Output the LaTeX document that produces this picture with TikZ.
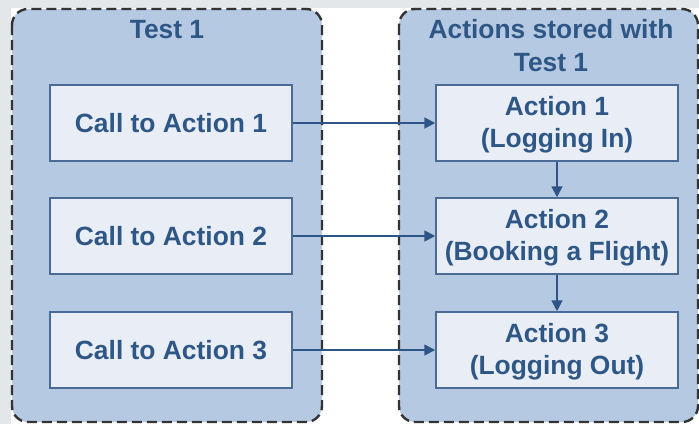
\documentclass[tikz,border=0pt]{standalone}
\usepackage{fontspec}
\setmainfont{Liberation Sans}
\usetikzlibrary{arrows.meta}
\definecolor{bggray}{HTML}{E3E7EA}
\definecolor{contfill}{HTML}{B5C9E2}
\definecolor{boxfill}{HTML}{E8EDF6}
\definecolor{boxline}{HTML}{4A6B96}
\definecolor{txtblue}{HTML}{2F5786}
\definecolor{arrblue}{HTML}{2F5587}
\definecolor{dashgray}{HTML}{333333}
\newcommand{\twoline}[2]{\raisebox{-2.5pt}[\height][\depth]{\begin{tabular}{@{}c@{}}#1\\#2\end{tabular}}}
\tikzset{
  container/.style={draw=dashgray, fill=contfill, line width=2.4pt, dash pattern=on 10pt off 5pt, rounded corners=16pt},
  actbox/.style={draw=boxline, fill=boxfill, line width=1.5pt, minimum width=242pt, minimum height=76pt, inner sep=0pt, align=center, text=txtblue, font=\fontsize{26.4}{32}\selectfont\bfseries},
  title/.style={text=txtblue, align=center, inner sep=0pt, font=\fontsize{26.4}{33}\selectfont\bfseries},
  conn/.style={draw=arrblue, line width=1.8pt, -{Triangle[length=11pt,width=11pt]}}
}
\begin{document}
\begin{tikzpicture}[x=1pt,y=-1pt]
\useasboundingbox (0,0) rectangle (699,424);
\fill[white] (0,0) rectangle (699,424);
\fill[bggray] (0,0) rectangle (699,7.5);
\fill[bggray] (0,0) rectangle (11,424);
% containers
\path[container] (12,9) rectangle (322,422);
\path[container] (399,9) rectangle (698,422);
\node[title] (t1) at (167,29.5) {Test 1};
\node[title, anchor=center] (t2) at (551,46) {Actions stored with\\Test 1};
% left boxes
\node[actbox] (c1) at (171,123) {Call to Action 1};
\node[actbox] (c2) at (171,236) {Call to Action 2};
\node[actbox] (c3) at (171,350) {Call to Action 3};
% right boxes
\node[actbox] (a1) at (557,123) {\twoline{Action 1}{(Logging In)}};
\node[actbox] (a2) at (557,236) {\twoline{Action 2}{(Booking a Flight)}};
\node[actbox] (a3) at (557,350) {\twoline{Action 3}{(Logging Out)}};
% connectors
\draw[conn] (c1.east) -- (a1.west);
\draw[conn] (c2.east) -- (a2.west);
\draw[conn] (c3.east) -- (a3.west);
\draw[conn] (a1.south) -- (a2.north);
\draw[conn] (a2.south) -- (a3.north);
\end{tikzpicture}
\end{document}
